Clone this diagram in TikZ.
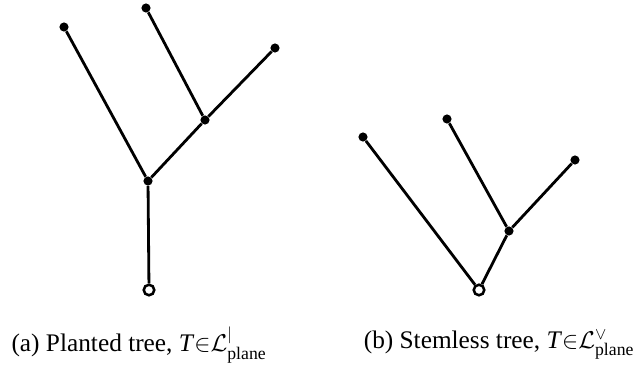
\documentclass[tikz,border=0pt]{standalone}
\usepackage{amsmath,amssymb}
\usepackage{fontspec}
\setmainfont{Liberation Serif}
\usepackage{tikz}
\tikzset{
  leaf/.style={circle,fill=black,inner sep=0pt,minimum size=6.5pt},
  root/.style={circle,draw=black,fill=white,line width=1.8pt,inner sep=0pt,minimum size=7.5pt},
  edge/.style={line width=2pt},
  caption/.style={font=\fontsize{18}{21}\selectfont,inner sep=0pt}
}
\newcommand{\inplane}[1]{\textit{T}$\mathord{\in}\mathcal{L}^{#1}_{\text{plane}}$}
\begin{document}
\begin{tikzpicture}[x=0.025cm,y=-0.025cm]
      \useasboundingbox (0,0) rectangle (640,364);
      % planted tree
      \node[leaf] (a1) at (148,181) {};
      \node[leaf] (a2) at (205,120) {};
      \node[leaf] (a3) at (64,27) {};
      \node[leaf] (a4) at (146,8) {};
      \node[leaf] (a5) at (275,48) {};
      \draw[edge] (a1) -- (a3);
      \draw[edge] (a1) -- (a2);
      \draw[edge] (a2) -- (a4);
      \draw[edge] (a2) -- (a5);
      \node[root] (a0) at (149,290) {};
      \draw[edge] (a0) -- (a1);
      \node[caption] (capa) at (139,345) {(a) Planted tree, \inplane{|}};
      % stemless tree
      \node[leaf] (b1) at (509,231) {};
      \node[leaf] (b2) at (363,137) {};
      \node[leaf] (b3) at (447,119) {};
      \node[leaf] (b4) at (575,160) {};
      \node[root] (b0) at (479,290) {};
      \draw[edge] (b0) -- (b2);
      \draw[edge] (b0) -- (b1);
      \draw[edge] (b1) -- (b3);
      \draw[edge] (b1) -- (b4);
      \node[caption] (capb) at (499,345) {(b) Stemless tree, \inplane{\vee}};
\end{tikzpicture}
\end{document}
